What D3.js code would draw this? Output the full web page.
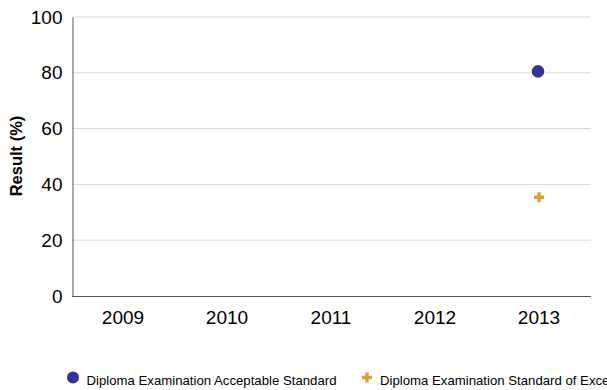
<!DOCTYPE html>
<html><head><meta charset="utf-8">
<script src="https://cdn.jsdelivr.net/npm/d3@7"></script>
<style>body{margin:0;background:#fff;}svg{display:block;font-family:"Liberation Sans",Arial,sans-serif;}</style>
</head><body>
<svg id="c" width="607" height="390"></svg>
<script>
const years = ["2009","2010","2011","2012","2013"];
const acceptable = [null,null,null,null,80.5];
const excellence = [null,null,null,null,35.4];
const yTicks = [0,20,40,60,80,100];
const seriesNames = ["Diploma Examination Acceptable Standard","Diploma Examination Standard of Excellence"];
const colors = ["#333399","#D9A030"];

const svg = d3.select("#c");
const x = d3.scaleBand().domain(years).range([71,591]);
const y = d3.scaleLinear().domain([0,100]).range([296,17]);

// gridlines
svg.append("g").selectAll("line").data(yTicks.filter(d=>d>0)).join("line")
  .attr("x1",72).attr("x2",591).attr("y1",d=>y(d)).attr("y2",d=>y(d))
  .attr("stroke","#d9d9d9").attr("stroke-width",1);

// axes
const yAxis = svg.append("g").attr("transform","translate(72.5,0)")
  .call(d3.axisLeft(y).tickValues(yTicks).tickSize(0).tickPadding(10));
yAxis.select(".domain").attr("stroke","#555");
yAxis.selectAll("text").attr("font-size",19).attr("fill","#000").attr("font-family","Liberation Sans, Arial, sans-serif");

const xAxis = svg.append("g").attr("transform","translate(0,296.5)")
  .call(d3.axisBottom(x).tickSize(0).tickPadding(14));
xAxis.select(".domain").attr("stroke","#555").attr("d","M72,0H591");
xAxis.selectAll("text").attr("font-size",19).attr("fill","#000").attr("font-family","Liberation Sans, Arial, sans-serif");

// y title
svg.append("text").attr("transform","translate(22,156) rotate(-90)")
  .attr("text-anchor","middle").attr("font-size",16.5).attr("font-weight","bold")
  .text("Result (%)");

const cx = d => x(d) + x.bandwidth()/2;

// series 1 - circles
svg.append("g").selectAll("circle")
  .data(years.map((yr,i)=>({yr,v:acceptable[i]})).filter(d=>d.v!=null))
  .join("circle").attr("cx",d=>cx(d.yr)-1).attr("cy",d=>y(d.v)).attr("r",6.3).attr("fill",colors[0]);

// series 2 - crosses
const cross = d3.symbol().type(d3.symbolCross).size(55);
svg.append("g").selectAll("path")
  .data(years.map((yr,i)=>({yr,v:excellence[i]})).filter(d=>d.v!=null))
  .join("path").attr("transform",d=>`translate(${cx(d.yr)},${y(d.v)})`).attr("d",cross).attr("fill",colors[1]);

// legend
const lg = svg.append("g");
lg.append("circle").attr("cx",73).attr("cy",377.5).attr("r",6).attr("fill",colors[0]);
lg.append("text").attr("x",86.5).attr("y",385).attr("font-size",13.2).text(seriesNames[0]);
lg.append("path").attr("transform","translate(367,377.5)").attr("d",cross).attr("fill",colors[1]);
lg.append("text").attr("x",380).attr("y",385).attr("font-size",13.2).text(seriesNames[1]);
</script>
</body></html>
